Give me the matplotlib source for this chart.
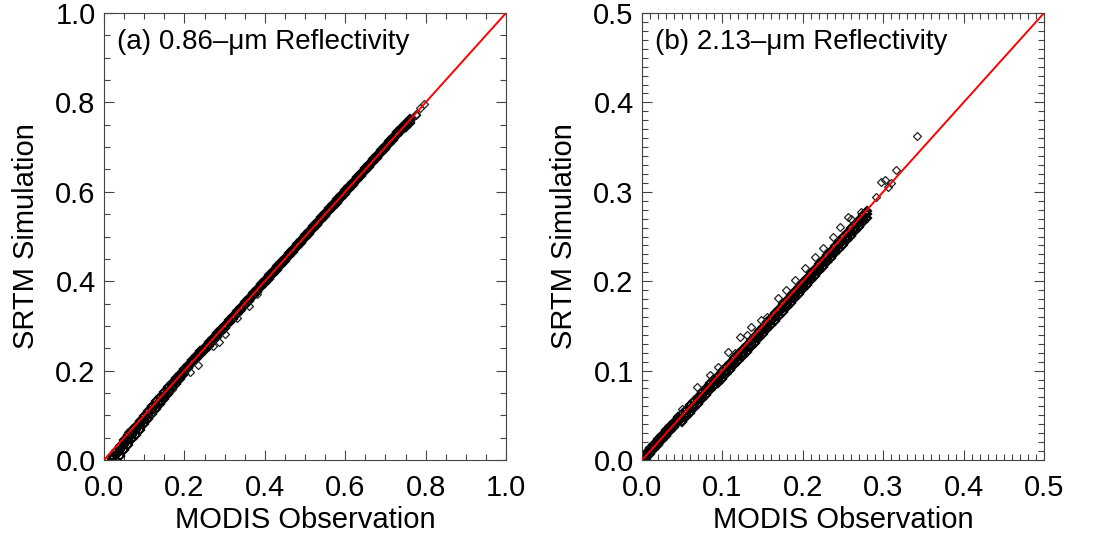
import matplotlib
matplotlib.use("Agg")
import matplotlib.pyplot as plt
from matplotlib.ticker import MultipleLocator, FormatStrFormatter

plt.rcParams['font.family'] = ['Liberation Sans', 'DejaVu Sans']

# ---------------- data: panel (a) 0.86-um reflectivity ----------------
obs_a = [0.02,0.03,0.04,0.05,0.06,0.07,0.08,0.09,0.10,0.11,
         0.12,0.13,0.14,0.15,0.16,0.17,0.18,0.19,0.20,0.21,
         0.22,0.23,0.24,0.25,0.26,0.27,0.28,0.29,0.30,0.31,
         0.32,0.33,0.34,0.35,0.36,0.37,0.38,0.39,0.40,0.41,
         0.42,0.43,0.44,0.45,0.46,0.47,0.48,0.49,0.50,0.51,
         0.52,0.53,0.54,0.55,0.56,0.57,0.58,0.59,0.60,0.61,
         0.62,0.63,0.64,0.65,0.66,0.67,0.68,0.69,0.70,0.71,
         0.72,0.73,0.74,0.75,0.76]
sim_a_hi = [0.010,0.020,0.032,0.044,0.055,0.066,0.077,0.088,0.099,0.109,
            0.120,0.131,0.142,0.152,0.163,0.173,0.183,0.193,0.203,0.213,
            0.223,0.233,0.243,0.253,0.263,0.273,0.283,0.293,0.303,0.313,
            0.323,0.333,0.343,0.353,0.363,0.373,0.383,0.393,0.403,0.413,
            0.423,0.433,0.443,0.453,0.463,0.473,0.483,0.493,0.503,0.513,
            0.523,0.533,0.543,0.553,0.563,0.573,0.583,0.593,0.603,0.613,
            0.623,0.633,0.643,0.653,0.663,0.673,0.683,0.693,0.703,0.713,
            0.723,0.733,0.743,0.753,0.762]
sim_a_mid = [0.002,0.011,0.022,0.034,0.045,0.056,0.067,0.078,0.089,0.100,
             0.111,0.122,0.133,0.144,0.155,0.166,0.176,0.187,0.197,0.209,
             0.219,0.229,0.239,0.249,0.259,0.269,0.279,0.289,0.299,0.309,
             0.319,0.329,0.339,0.349,0.359,0.369,0.379,0.389,0.399,0.409,
             0.419,0.429,0.439,0.449,0.459,0.469,0.479,0.489,0.499,0.509,
             0.519,0.529,0.539,0.549,0.559,0.569,0.579,0.589,0.599,0.609,
             0.619,0.629,0.639,0.649,0.659,0.669,0.679,0.689,0.699,0.709,
             0.719,0.729,0.739,0.749,0.758]
sim_a_lo = [-0.006,0.000,0.010,0.022,0.034,0.046,0.057,0.068,0.080,0.091,
            0.103,0.114,0.125,0.137,0.148,0.159,0.170,0.181,0.192,0.206,
            0.216,0.226,0.236,0.246,0.256,0.266,0.276,0.286,0.296,0.306,
            0.316,0.326,0.336,0.346,0.356,0.366,0.376,0.386,0.396,0.406,
            0.416,0.426,0.436,0.446,0.456,0.466,0.476,0.486,0.496,0.506,
            0.516,0.526,0.536,0.546,0.556,0.566,0.576,0.586,0.596,0.606,
            0.616,0.626,0.636,0.646,0.656,0.666,0.676,0.686,0.696,0.706,
            0.716,0.726,0.736,0.746,0.755]
obs_a_out = [0.060,0.120,0.170,0.215,0.235,0.270,0.285,0.300,0.330,0.360,0.380,0.765,0.775,0.775,0.785,0.795]
sim_a_out = [0.062,0.105,0.158,0.197,0.212,0.255,0.265,0.282,0.318,0.345,0.372,0.765,0.775,0.771,0.787,0.797]

# ---------------- data: panel (b) 2.13-um reflectivity ----------------
obs_b = [0.000,0.005,0.010,0.015,0.020,0.025,0.030,0.035,0.040,0.045,
         0.050,0.055,0.060,0.065,0.070,0.075,0.080,0.085,0.090,0.095,
         0.100,0.105,0.110,0.115,0.120,0.125,0.130,0.135,0.140,0.145,
         0.150,0.155,0.160,0.165,0.170,0.175,0.180,0.185,0.190,0.195,
         0.200,0.205,0.210,0.215,0.220,0.225,0.230,0.235,0.240,0.245,
         0.250,0.255,0.260,0.265,0.270,0.275,0.280]
sim_b_hi = [0.003,0.008,0.013,0.018,0.023,0.028,0.033,0.038,0.043,0.048,
            0.051,0.056,0.061,0.066,0.071,0.076,0.081,0.086,0.091,0.094,
            0.099,0.104,0.109,0.114,0.119,0.124,0.129,0.134,0.139,0.144,
            0.149,0.154,0.159,0.164,0.169,0.174,0.179,0.184,0.189,0.194,
            0.199,0.204,0.209,0.214,0.219,0.224,0.229,0.234,0.239,0.244,
            0.249,0.254,0.259,0.264,0.269,0.274,0.279]
sim_b_mid = [0.000,0.005,0.010,0.015,0.020,0.025,0.030,0.035,0.040,0.045,
             0.047,0.052,0.057,0.062,0.067,0.072,0.077,0.082,0.087,0.090,
             0.095,0.100,0.105,0.110,0.115,0.120,0.125,0.130,0.135,0.140,
             0.145,0.150,0.155,0.160,0.165,0.170,0.175,0.180,0.185,0.190,
             0.195,0.200,0.205,0.210,0.215,0.220,0.225,0.230,0.235,0.240,
             0.245,0.250,0.255,0.260,0.265,0.270,0.275]
sim_b_lo = [-0.002,0.002,0.007,0.012,0.017,0.022,0.027,0.032,0.037,0.042,
            0.043,0.048,0.053,0.058,0.063,0.068,0.073,0.078,0.083,0.086,
            0.091,0.096,0.101,0.106,0.111,0.116,0.121,0.126,0.131,0.136,
            0.141,0.146,0.151,0.156,0.161,0.166,0.171,0.176,0.181,0.186,
            0.191,0.196,0.201,0.206,0.211,0.216,0.221,0.226,0.231,0.236,
            0.241,0.246,0.251,0.256,0.261,0.266,0.271]
obs_b_out = [0.342,0.316,0.297,0.302,0.291,0.310,0.306,0.272,0.256,0.260,0.246,0.237,0.225,0.215,0.203,
             0.190,0.179,0.169,0.148,0.136,0.122,0.107,0.085,0.068,0.155,0.130,0.095,0.050,0.116,0.134]
sim_b_out = [0.362,0.324,0.311,0.313,0.294,0.310,0.305,0.277,0.272,0.270,0.261,0.250,0.237,0.227,0.215,
             0.201,0.190,0.181,0.157,0.149,0.138,0.121,0.095,0.082,0.160,0.140,0.104,0.057,0.120,0.131]

panels = [
    dict(dense_obs=[obs_a, obs_a, obs_a], dense_sim=[sim_a_hi, sim_a_mid, sim_a_lo],
         out_obs=obs_a_out, out_sim=sim_a_out,
         lim=1.0, major=0.2, minor=0.05, title="(a) 0.86\u2013\u03bcm Reflectivity", left=104),
    dict(dense_obs=[obs_b, obs_b, obs_b], dense_sim=[sim_b_hi, sim_b_mid, sim_b_lo],
         out_obs=obs_b_out, out_sim=sim_b_out,
         lim=0.5, major=0.1, minor=0.01, title="(b) 2.13\u2013\u03bcm Reflectivity", left=642),
]

W, H = 1098, 538
fig = plt.figure(figsize=(W / 100, H / 100), dpi=100)

for p in panels:
    ax = fig.add_axes([p['left'] / W, (H - 460) / H, 402 / W, 447 / H])
    # dense, heavily overlapping open diamonds -> solid black band
    for xs, ys in zip(p['dense_obs'], p['dense_sim']):
        ax.plot(xs, ys, linestyle='none', marker='D', markersize=3.6,
                markerfacecolor='none', markeredgecolor='black', markeredgewidth=1.6, zorder=2)
    # scattered open diamonds
    ax.plot(p['out_obs'], p['out_sim'], linestyle='none', marker='D', markersize=3.6,
            markerfacecolor='none', markeredgecolor='#222222', markeredgewidth=0.9, zorder=2)
    ax.plot([0, p['lim']], [0, p['lim']], color='red', linewidth=1.4, zorder=3)
    ax.set_xlim(0, p['lim'])
    ax.set_ylim(0, p['lim'])
    ax.xaxis.set_major_locator(MultipleLocator(p['major']))
    ax.yaxis.set_major_locator(MultipleLocator(p['major']))
    ax.xaxis.set_minor_locator(MultipleLocator(p['minor']))
    ax.yaxis.set_minor_locator(MultipleLocator(p['minor']))
    ax.xaxis.set_major_formatter(FormatStrFormatter('%.1f'))
    ax.yaxis.set_major_formatter(FormatStrFormatter('%.1f'))
    ax.tick_params(which='both', direction='in', top=True, right=True, color='#444444', width=0.8)
    ax.tick_params(which='major', length=7.5, labelsize=21)
    ax.tick_params(which='minor', length=4.5)
    ax.tick_params(axis='x', which='major', pad=10)
    ax.tick_params(axis='y', which='major', pad=6)
    for s in ax.spines.values():
        s.set_color('#444444')
        s.set_linewidth(0.8)
    ax.set_xlabel('MODIS Observation', fontsize=21)
    ax.set_ylabel('SRTM Simulation', fontsize=21)
    ax.xaxis.set_label_coords(0.5, -0.134)
    ax.xaxis.label.set_va('center')
    ax.yaxis.set_label_coords(-0.195, 0.5)
    ax.yaxis.label.set_va('center')
    ax.text(0.032, 0.935, p['title'], transform=ax.transAxes, fontsize=20, va='center', ha='left')

fig.savefig('out.png', dpi=100)
